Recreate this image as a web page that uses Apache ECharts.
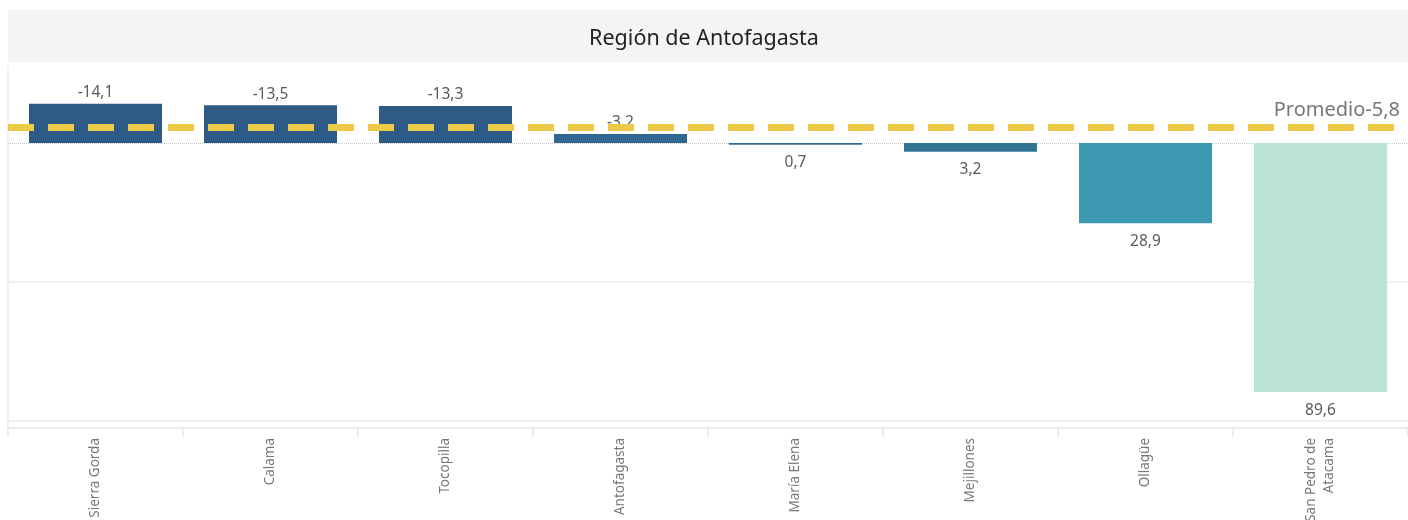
<!DOCTYPE html>
<html>
<head>
  <meta charset="UTF-8">
  <title>Región de Antofagasta</title>
  <script type="text/javascript" src="https://cdn.jsdelivr.net/npm/echarts@6/dist/echarts.min.js"></script>
  <style>
    html, body { margin: 0; padding: 0; background: #fff; }
  </style>
</head>
<body>
<div id="main" style="width:1408px; height:520px;"></div>
<script>
  // ============ datos ============
  const comunas = ['Sierra Gorda', 'Calama', 'Tocopilla', 'Antofagasta', 'María Elena', 'Mejillones', 'Ollagüe', 'San Pedro de\nAtacama'];
  const valores = [-14.1, -13.5, -13.3, -3.2, 0.7, 3.2, 28.9, 89.6];
  const colores = ['#2e5a86', '#2e5a86', '#2e5a86', '#306890', '#30698f', '#337395', '#3c97b1', '#bce3d8'];
  const promedio = -5.8;
  const lineasGuia = [50, 100];

  const fuente = '"Noto Sans", sans-serif';
  const fmt = v => v.toFixed(1).replace('.', ',');

  let chart = echarts.init(document.getElementById('main'), null, {renderer: 'canvas'});

  const barras = valores.map((v, i) => ({
    value: v,
    itemStyle: {color: colores[i]},
    label: {position: v < 0 ? 'top' : 'bottom', distance: v < 0 ? 3 : 10}
  }));

  // líneas de fondo (detrás de las barras)
  const fondo = lineasGuia.map(y => ({
    yAxis: y,
    lineStyle: {color: '#ececec', type: 'solid', width: 1.5},
    label: {show: false}
  }));
  fondo.push({
    yAxis: 0,
    lineStyle: {color: '#c4c4c4', type: 'dotted', width: 1},
    label: {show: false}
  });

  chart.setOption({
    animation: false,
    graphic: [{
      type: 'rect',
      shape: {x: 8, y: 10, width: 1400, height: 52},
      style: {fill: '#f4f4f4'},
      z: -1
    }],
    title: {
      text: 'Región de Antofagasta',
      left: 'center',
      top: 23,
      textStyle: {fontFamily: fuente, fontSize: 21.5, fontWeight: 'normal', color: '#222'}
    },
    grid: {left: 8, right: 0, top: 65, bottom: 92, outerBoundsMode: 'none', containLabel: false},
    xAxis: {
      type: 'category',
      data: comunas,
      axisLine: {show: true, onZero: false, lineStyle: {color: '#e8e8e8', width: 1.5}},
      axisTick: {show: true, length: 9, lineStyle: {color: '#e8e8e8', width: 1.5}},
      axisLabel: {rotate: 90, margin: 10, color: '#777', fontSize: 13.5, fontFamily: fuente, lineHeight: 18}
    },
    yAxis: {
      type: 'value',
      inverse: true,
      min: -28,
      max: 102.5,
      axisLine: {show: true, lineStyle: {color: '#ececec', width: 1.5}},
      axisTick: {show: false},
      axisLabel: {show: false},
      splitLine: {show: false}
    },
    series: [{
      type: 'line',
      data: [],
      z: 1,
      markLine: {silent: true, symbol: 'none', z: 1, data: fondo}
    }, {
      type: 'bar',
      data: barras,
      z: 2,
      barCategoryGap: '24%',
      label: {
        show: true,
        color: '#5a5a5a',
        fontSize: 15.5,
        fontFamily: fuente,
        formatter: p => fmt(p.value)
      },
      markLine: {
        silent: true,
        symbol: 'none',
        z: 5,
        data: [{
          yAxis: promedio,
          lineStyle: {color: '#edc948', type: [26, 14], width: 7},
          label: {
            show: true,
            position: 'insideEndTop',
            distance: [8, 6],
            formatter: 'Promedio' + fmt(promedio),
            color: '#777',
            fontSize: 20,
            fontFamily: fuente
          }
        }]
      }
    }]
  });
</script>
</body>
</html>
